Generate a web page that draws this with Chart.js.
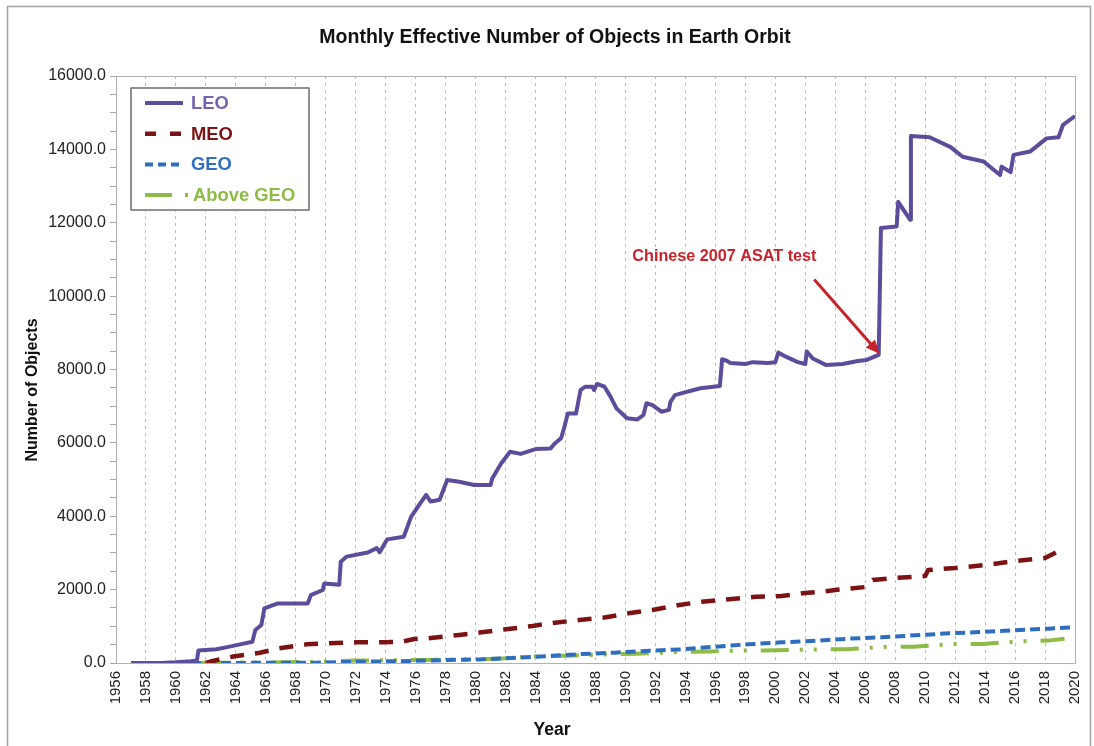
<!DOCTYPE html>
<html>
<head>
<meta charset="utf-8">
<script src="https://cdn.jsdelivr.net/npm/chart.js@4/dist/chart.umd.min.js"></script>
<style>
  html, body { margin: 0; padding: 0; background: #fff; }
  #wrap { width: 1094px; height: 746px; position: relative; }
</style>
</head>
<body>
<div id="wrap"><canvas id="orbitChart" width="1094" height="746"></canvas></div>
<script>
// Valeurs (année décimale -> nombre effectif d'objets)
const leoYears = [1957.0, 1959.0, 1960.0, 1961.0, 1961.4, 1961.5, 1962.7, 1963.5, 1964.2, 1965.1, 1965.3, 1965.7, 1965.9,
  1966.8, 1968.8, 1969.0, 1969.8, 1969.9, 1970.9, 1971.0, 1971.4, 1972.8, 1973.4, 1973.6, 1974.1, 1975.2, 1975.7,
  1976.3, 1976.7, 1977.0, 1977.6, 1978.1, 1978.9, 1979.9, 1981.0, 1981.1, 1981.7, 1982.3, 1983.0, 1984.0, 1985.0,
  1985.3, 1985.7, 1985.9, 1986.15, 1986.7, 1987.0, 1987.3, 1987.8, 1987.9, 1988.1, 1988.6, 1989.0, 1989.4, 1990.1,
  1990.8, 1991.2, 1991.4, 1991.8, 1992.4, 1992.9, 1993.0, 1993.3, 1993.9, 1995.0, 1996.3, 1996.45, 1996.7, 1997.0,
  1998.0, 1998.5, 1999.5, 2000.0, 2000.2, 2000.7, 2001.5, 2002.0, 2002.1, 2002.5, 2003.4, 2004.5, 2005.5, 2006.1,
  2006.9, 2007.05, 2008.1, 2008.2, 2009.0, 2009.05, 2010.3, 2011.7, 2012.5, 2013.9, 2015.0, 2015.1, 2015.7, 2015.9,
  2017.0, 2018.1, 2018.9, 2019.2, 2020.0];
const leoValues = [0, 0, 20, 50, 70, 340, 375, 440, 500, 580, 900, 1035, 1490,
  1625, 1625, 1850, 1990, 2170, 2130, 2760, 2900, 3010, 3130, 3020, 3370, 3440, 3990,
  4350, 4580, 4400, 4450, 4990, 4940, 4850, 4850, 5020, 5440, 5760, 5700, 5830, 5850,
  5990, 6125, 6400, 6800, 6800, 7440, 7530, 7530, 7440, 7605, 7530, 7260, 6940, 6670,
  6640, 6760, 7080, 7030, 6850, 6900, 7120, 7300, 7370, 7490, 7550, 8280, 8250, 8180,
  8150, 8200, 8180, 8200, 8460, 8350, 8200, 8150, 8490, 8300, 8120, 8150, 8230, 8260,
  8400, 11860, 11900, 12570, 12080, 14366, 14330, 14060, 13800, 13670, 13300, 13530, 13380, 13850,
  13940, 14300, 14330, 14670, 14910];

const meoYears = [1962.0, 1962.3, 1963.8, 1965.6, 1966.9, 1968.7, 1970.2, 1972.0, 1973.8, 1975.1, 1975.9, 1976.7,
  1978.9, 1980.4, 1982.0, 1983.8, 1985.3, 1986.9, 1988.7, 1990.2, 1991.8, 1993.6, 1995.1, 1996.4, 1998.7, 2000.4,
  2001.8, 2003.1, 2004.0, 2006.0, 2006.5, 2008.0, 2010.0, 2010.2, 2012.0, 2014.0, 2016.0, 2018.0, 2018.8, 2019.3];
const meoValues = [0, 40, 175, 280, 400, 508, 535, 563, 563, 580, 654, 670,
  763, 836, 918, 1009, 1100, 1172, 1245, 1354, 1445, 1581, 1672, 1717, 1808, 1826,
  1899, 1944, 1990, 2070, 2260, 2320, 2370, 2535, 2590, 2670, 2780, 2860, 3025, 3080];

const geoYears = [1959.0, 1962.0, 1966.0, 1969.3, 1971.6, 1974.9, 1976.0, 1978.2, 1980.4, 1982.7, 1984.9, 1987.1,
  1989.3, 1991.6, 1993.8, 1995.8, 1998.2, 2000.4, 2002.7, 2004.9, 2007.1, 2009.3, 2011.6, 2013.8, 2016.0, 2018.2, 2020.0];
const geoValues = [0, 0, 5, 10, 30, 50, 60, 82, 100, 145, 190, 245,
  281, 336, 372, 440, 509, 563, 609, 663, 700, 754, 809, 845, 890, 936, 972];

const aboveYears = [1957.0, 1962.0, 1966.0, 1969.0, 1972.0, 1976.0, 1980.0, 1982.0, 1984.5, 1986.2, 1989.3, 1990.7,
  1993.8, 1995.6, 1997.4, 2000.1, 2002.9, 2004.7, 2007.4, 2009.2, 2012.0, 2013.8, 2016.6, 2018.2, 2019.3];
const aboveValues = [0, 5, 15, 30, 65, 80, 100, 130, 195, 200, 245, 250,
  305, 315, 340, 345, 370, 375, 440, 445, 515, 520, 595, 610, 660];

// Axes
const yearMin = 1956;
const yearMax = 2020;
const yearStep = 2;
const objMax = 16000;
const objLabelStep = 2000;
const objMinorStep = 500;

// Annotation (coordonnées en données)
const asatText = 'Chinese 2007 ASAT test';
const asatTextAt = [1996.6, 11070];
const asatArrowFrom = [2002.6, 10450];
const asatArrowTo = [2006.95, 8430];

const FONT = "'Liberation Sans', Arial, sans-serif";

function toPoints(xs, ys) {
    return xs.map((x, i) => ({ x: x, y: ys[i] }));
}

const series = [
    { label: 'LEO', years: leoYears, values: leoValues, color: '#5d4b9c', text: '#7563b0', width: 4, dash: [], legendDash: [] },
    { label: 'MEO', years: meoYears, values: meoValues, color: '#7d1214', text: '#7d1214', width: 4.5, dash: [14, 11], legendDash: [11, 14] },
    { label: 'GEO', years: geoYears, values: geoValues, color: '#2f6ebf', text: '#2f6ebf', width: 4, dash: [10, 5], legendDash: [8, 5] },
    { label: 'Above GEO', years: aboveYears, values: aboveValues, color: '#8dbb46', text: '#8dbb46', width: 4, dash: [28, 11, 3, 11, 3, 14], legendDash: [27, 13, 3, 40] }
];

// Plugin pour les éléments dessinés à la main (titre, cadre, légende, flèche)
const decorations = {
    id: 'decorations',
    afterDraw(chart) {
        const ctx = chart.ctx;
        const area = chart.chartArea;
        const xs = chart.scales.x;
        const ys = chart.scales.y;
        ctx.save();

        // cadre extérieur
        ctx.strokeStyle = '#a3a3a3';
        ctx.lineWidth = 1.5;
        ctx.strokeRect(7.5, 6.5, 1083, 800);

        // cadre de la zone de tracé
        ctx.strokeStyle = '#b0b0b0';
        ctx.lineWidth = 1;
        ctx.strokeRect(area.left + 0.5, area.top + 0.5, area.right - area.left, area.bottom - area.top);

        // titre
        ctx.fillStyle = '#111';
        ctx.font = 'bold 19.5px ' + FONT;
        ctx.textAlign = 'center';
        ctx.textBaseline = 'middle';
        ctx.fillText('Monthly Effective Number of Objects in Earth Orbit', 555, 38);

        // titres des axes
        ctx.font = 'bold 17.5px ' + FONT;
        ctx.fillText('Year', 552, 730);
        ctx.font = 'bold 16px ' + FONT;
        ctx.save();
        ctx.translate(33, 390);
        ctx.rotate(-Math.PI / 2);
        ctx.fillText('Number of Objects', 0, 0);
        ctx.restore();

        // légende
        const lx = 131, ly = 88, lw = 178, lh = 122;
        ctx.fillStyle = '#fff';
        ctx.fillRect(lx, ly, lw, lh);
        ctx.strokeStyle = '#6e6e6e';
        ctx.lineWidth = 1.5;
        ctx.strokeRect(lx, ly, lw, lh);
        chart.data.datasets.forEach((ds, i) => {
            const s = series[i];
            const yy = 103 + i * 30.7;
            ctx.strokeStyle = s.color;
            ctx.lineWidth = ds.borderWidth;
            ctx.setLineDash(s.legendDash);
            ctx.beginPath();
            ctx.moveTo(145, yy);
            ctx.lineTo(i === 3 ? 189 : 183, yy);
            ctx.stroke();
            ctx.setLineDash([]);
            ctx.fillStyle = s.text;
            ctx.font = 'bold 18.4px ' + FONT;
            ctx.textAlign = 'left';
            ctx.fillText(ds.label, i === 3 ? 193 : 191, yy + 1);
        });

        // annotation ASAT
        const red = '#c8232b';
        ctx.fillStyle = red;
        ctx.font = 'bold 16.2px ' + FONT;
        ctx.textAlign = 'center';
        ctx.fillText(asatText, xs.getPixelForValue(asatTextAt[0]), ys.getPixelForValue(asatTextAt[1]));
        const x1 = xs.getPixelForValue(asatArrowFrom[0]), y1 = ys.getPixelForValue(asatArrowFrom[1]);
        const x2 = xs.getPixelForValue(asatArrowTo[0]), y2 = ys.getPixelForValue(asatArrowTo[1]);
        const ang = Math.atan2(y2 - y1, x2 - x1);
        const head = 15;
        ctx.strokeStyle = red;
        ctx.lineWidth = 3;
        ctx.beginPath();
        ctx.moveTo(x1, y1);
        ctx.lineTo(x2 - head * 0.8 * Math.cos(ang), y2 - head * 0.8 * Math.sin(ang));
        ctx.stroke();
        ctx.beginPath();
        ctx.moveTo(x2, y2);
        ctx.lineTo(x2 - head * Math.cos(ang - 0.42), y2 - head * Math.sin(ang - 0.42));
        ctx.lineTo(x2 - head * Math.cos(ang + 0.42), y2 - head * Math.sin(ang + 0.42));
        ctx.closePath();
        ctx.fill();

        ctx.restore();
    }
};

const ctx = document.getElementById('orbitChart').getContext('2d');
const chart = new Chart(ctx, {
    type: 'line',
    data: {
        datasets: series.map(s => ({
            label: s.label,
            data: toPoints(s.years, s.values),
            borderColor: s.color,
            backgroundColor: s.color,
            borderWidth: s.width,
            borderDash: s.dash,
            borderCapStyle: 'butt',
            borderJoinStyle: 'round',
            pointRadius: 0,
            tension: 0,
            fill: false
        }))
    },
    options: {
        responsive: false,
        animation: false,
        layout: { padding: { top: 76, left: 0, right: 19, bottom: 0 } },
        plugins: {
            legend: { display: false },
            title: { display: false },
            tooltip: { enabled: false }
        },
        scales: {
            x: {
                type: 'linear',
                min: yearMin,
                max: yearMax,
                afterFit: scale => {
                    scale.height = 83;
                    scale.paddingLeft = 0;
                    scale.paddingRight = 0;
                },
                ticks: {
                    stepSize: yearStep,
                    autoSkip: false,
                    minRotation: 90,
                    maxRotation: 90,
                    padding: 8,
                    color: '#222',
                    font: { family: FONT, size: 15 },
                    callback: v => String(v)
                },
                grid: { color: '#bdbdbd', drawTicks: false, lineWidth: 1 },
                border: { display: true, color: '#a0a0a0', dash: [3, 4] }
            },
            y: {
                min: 0,
                max: objMax,
                afterFit: scale => { scale.width = 116; },
                ticks: {
                    stepSize: objMinorStep,
                    autoSkip: false,
                    maxTicksLimit: 60,
                    padding: 4,
                    color: '#222',
                    font: { family: FONT, size: 16 },
                    callback: v => (v % objLabelStep === 0 ? v.toFixed(1) : '')
                },
                grid: { drawOnChartArea: false, drawTicks: true, tickLength: 6, color: '#a8a8a8' },
                border: { display: true, color: '#a0a0a0' }
            }
        }
    },
    plugins: [decorations]
});
</script>
</body>
</html>
